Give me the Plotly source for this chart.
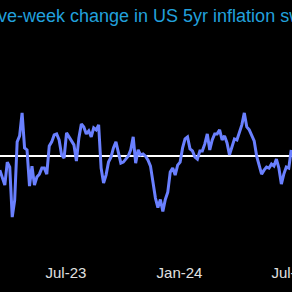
import pandas as pd
import plotly.graph_objects as go

title_text = "Five-week change in US 5yr inflation swaps"
start_date = "2023-03-16"
step = "4D"

# five-week change, bp
change_bp = [
    -7.3, -10.8, -14.8, -3.3, -5.8, -30.8, -22.3, 6.8, 9.8, 21.3,
    3.8, 2.8, -15.3, -5.3, -14.8, -10.8, -9.3, -6.3, -6.3, -9.3,
    4.8, 6.8, 10.3, 10.8, 7.8, 0.3, -1.3, 11.3, 9.3, 6.8,
    5.3, -2.8, 8.8, 15.8, 14.3, 10.8, 12.3, 9.3, 13.8, 12.8,
    15.3, -6.3, -13.8, -9.8, -3.3, -0.8, 3.8, 6.8, 0.8, -3.8,
    -3.3, -1.8, -0.3, 2.8, 9.3, -3.8, 2.8, 0.3, 0.8, -0.3,
    -2.3, -5.3, -13.3, -21.3, -26.0, -22.0, -28.0, -22.0, -18.3, -8.3,
    -6.3, -9.8, -4.8, -3.3, 3.8, 8.3, 9.3, 3.3, 2.3, -0.8,
    -1.8, 2.3, 2.3, 5.8, 10.8, 2.8, 7.8, 10.8, 10.8, 12.8,
    7.8, 9.8, 6.3, 0.3, 4.3, 8.3, 7.8, 11.8, 15.3, 21.3,
    14.3, 12.8, 10.3, 7.3, -0.3, -5.3, -9.3, -7.3, -5.8, -6.3,
    -4.3, -5.3, -1.8, -6.3, -14.3, -9.3, -5.8, -6.3, 2.8,
]
dates = pd.date_range(start_date, periods=len(change_bp), freq=step)

fig = go.Figure()
fig.add_trace(go.Scatter(
    x=dates, y=change_bp, mode="lines",
    line=dict(color="#6a80ff", width=3),
    hoverinfo="skip",
))

fig.add_annotation(
    text=title_text, xref="paper", yref="paper",
    x=-19 / 292, y=1.0, xanchor="left", yanchor="middle",
    yshift=-16, showarrow=False,
    font=dict(family="Liberation Sans, Arial", size=18, color="#22a0dc"),
)

fig.update_layout(
    width=292, height=292,
    margin=dict(l=0, r=0, t=0, b=30, autoexpand=False),
    paper_bgcolor="black", plot_bgcolor="black",
    showlegend=False,
    font=dict(family="Liberation Sans, Arial", size=15, color="#e0e0e0"),
    xaxis=dict(
        range=["2023-03-16 05:00", "2024-07-01 06:00"],
        tickformat="%b-%y", dtick="M6", tick0="2023-01-01",
        showgrid=False, showline=False, zeroline=False, ticks="",
        ticklabeloverflow="allow", automargin=False,
        tickfont=dict(size=15, color="#e0e0e0"),
    ),
    yaxis=dict(
        range=[-53.25, 77.75], automargin=False,
        showgrid=False, showticklabels=False, ticks="",
        zeroline=True, zerolinecolor="white", zerolinewidth=2,
    ),
)

fig.write_html("out.html")
